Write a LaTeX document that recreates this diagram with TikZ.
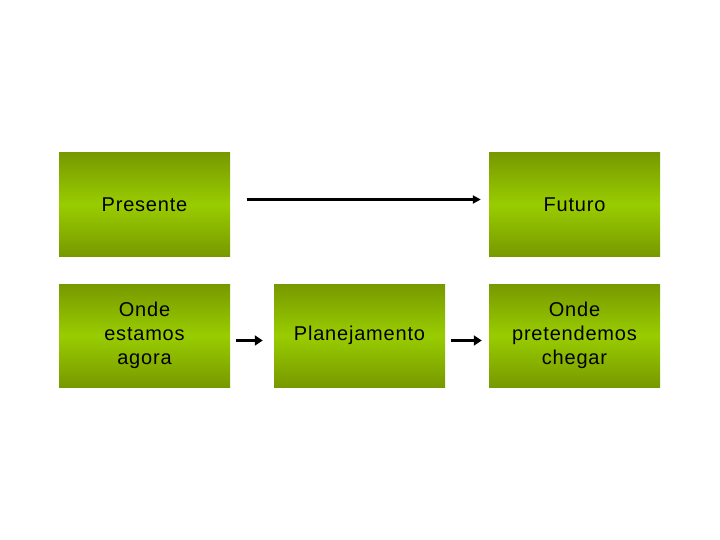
\documentclass[tikz,border=0pt]{standalone}
\usepackage{fontspec}
\setmainfont[LetterSpace=4]{Liberation Sans}
\usetikzlibrary{arrows.meta}
\definecolor{gdark}{HTML}{779900}
\definecolor{glight}{HTML}{99CC00}
\begin{document}
\begin{tikzpicture}[x=1pt,y=1pt,
  gbox/.style={rectangle,minimum width=171pt,minimum height=103pt,inner sep=0pt,
    top color=gdark,bottom color=gdark,middle color=glight,draw=none,
    font=\fontsize{20}{24}\selectfont,align=center,text=black,
    execute at begin node={\vspace*{4pt}}},
  conn/.style={draw=black,line width=3.4pt,-{Triangle[length=8pt,width=10pt]}},
  connt/.style={draw=black,line width=2.8pt,-{Triangle[length=8pt,width=8pt]}}]
\useasboundingbox (0,0) rectangle (720,-540);
\node[gbox] (pres) at (144.5,-204.5) {Presente};
\node[gbox] (fut) at (574.5,-204.5) {Futuro};
\node[gbox] (agora) at (144.5,-335.5) {Onde\\estamos\\agora};
\node[gbox] (plan) at (359.5,-335.5) {Planejamento};
\node[gbox] (cheg) at (574.5,-335.5) {Onde\\pretendemos\\chegar};
\draw[connt,shorten <=16.5pt,shorten >=8pt] ([yshift=5pt]pres.east) -- ([yshift=5pt]fut.west);
\draw[conn,shorten <=5.5pt,shorten >=11pt] ([yshift=-5pt]agora.east) -- ([yshift=-5pt]plan.west);
\draw[conn,shorten <=5.5pt,shorten >=7pt] ([yshift=-5pt]plan.east) -- ([yshift=-5pt]cheg.west);
\end{tikzpicture}
\end{document}
